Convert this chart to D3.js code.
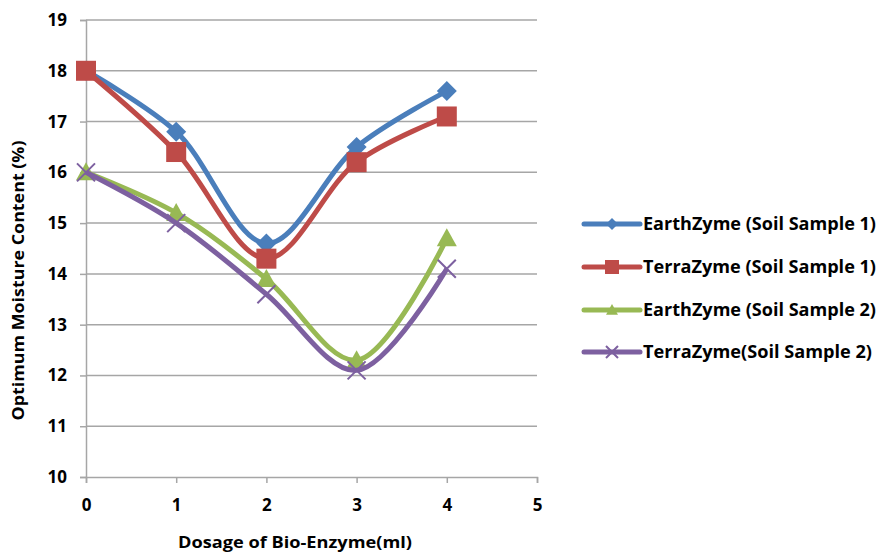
<!DOCTYPE html>
<html>
<head>
<style>
  body { margin: 0; background: #fff; }
  text { font-family: "Open Sans", "Liberation Sans", Arial, sans-serif; font-weight: bold; fill: #000; }
</style>
</head>
<body>
<svg></svg>
<script src="https://cdnjs.cloudflare.com/ajax/libs/d3/7.8.5/d3.min.js"></script>
<script>
// data
const dosage = [0, 1, 2, 3, 4];
const earthZyme1 = [18, 16.8, 14.6, 16.5, 17.6];
const terraZyme1 = [18, 16.4, 14.3, 16.2, 17.1];
const earthZyme2 = [16, 15.2, 13.9, 12.3, 14.7];
const terraZyme2 = [16, 15.0, 13.6, 12.1, 14.1];
const seriesNames = ["EarthZyme (Soil Sample 1)", "TerraZyme (Soil Sample 1)", "EarthZyme (Soil Sample 2)", "TerraZyme(Soil Sample 2)"];
const xTicks = [0, 1, 2, 3, 4, 5];
const yTicks = [10, 11, 12, 13, 14, 15, 16, 17, 18, 19];

const width = 879, height = 553;
const svg = d3.select("svg").attr("width", width).attr("height", height);

const x = d3.scaleLinear().domain([0, 5]).range([86, 537]);
const y = d3.scaleLinear().domain([10, 19]).range([477, 20]);

const grid = "#a6a6a6";

// horizontal gridlines
svg.append("g").selectAll("line").data(yTicks.slice(1)).join("line")
  .attr("x1", x(0)).attr("x2", x(5))
  .attr("y1", d => y(d)).attr("y2", d => y(d))
  .attr("stroke", grid).attr("stroke-width", 1.5);

// axes
const yAxis = svg.append("g").attr("transform", `translate(${x(0)},0)`)
  .call(d3.axisLeft(y).tickValues(yTicks).tickSize(6).tickPadding(13).tickFormat(d3.format("d")));
const xAxis = svg.append("g").attr("transform", `translate(0,${y(10)})`)
  .call(d3.axisBottom(x).tickValues(xTicks).tickSize(6).tickPadding(16).tickFormat(d3.format("d")));
[yAxis, xAxis].forEach(a => {
  a.select(".domain").attr("stroke", grid).attr("stroke-width", 1.5);
  a.selectAll(".tick line").attr("stroke", grid).attr("stroke-width", 1.5);
  a.selectAll(".tick text").style("font-size", "17px").style("font-family", null);
});

// axis titles
svg.append("text")
  .attr("transform", `translate(24,${(y(10) + y(19)) / 2 + 32}) rotate(-90)`)
  .attr("text-anchor", "middle").style("font-size", "16px")
  .text("Optimum Moisture Content (%)")
  .attr("textLength", 280).attr("lengthAdjust", "spacingAndGlyphs");
svg.append("text")
  .attr("x", 295).attr("y", 548)
  .attr("text-anchor", "middle").style("font-size", "16px")
  .text("Dosage of Bio-Enzyme(ml)")
  .attr("textLength", 234).attr("lengthAdjust", "spacingAndGlyphs");

const series = [
  { name: seriesNames[0], values: earthZyme1, color: "#4a7ebb", marker: "diamond" },
  { name: seriesNames[1], values: terraZyme1, color: "#be4b48", marker: "square" },
  { name: seriesNames[2], values: earthZyme2, color: "#98b954", marker: "triangle" },
  { name: seriesNames[3], values: terraZyme2, color: "#7d60a0", marker: "cross" }
];

const line = d3.line().x(d => x(d[0])).y(d => y(d[1])).curve(d3.curveCatmullRom.alpha(0.5));

function drawMarker(g, type, color, cx, cy, s) {
  if (type === "diamond") {
    g.append("path").attr("d", `M${cx},${cy - s}L${cx + s},${cy}L${cx},${cy + s}L${cx - s},${cy}Z`).attr("fill", color);
  } else if (type === "square") {
    g.append("rect").attr("x", cx - s).attr("y", cy - s).attr("width", 2 * s).attr("height", 2 * s).attr("fill", color);
  } else if (type === "triangle") {
    g.append("path").attr("d", `M${cx},${cy - s}L${cx + s},${cy + s * 0.8}L${cx - s},${cy + s * 0.8}Z`).attr("fill", color);
  } else {
    g.append("path").attr("d", `M${cx - s},${cy - s}L${cx + s},${cy + s}M${cx + s},${cy - s}L${cx - s},${cy + s}`)
      .attr("stroke", color).attr("stroke-width", 2);
  }
}

const sizes = { diamond: 10, square: 10, triangle: 10, cross: 9 };

series.forEach(s => {
  const pts = dosage.map((d, i) => [d, s.values[i]]);
  svg.append("path").datum(pts).attr("d", line)
    .attr("fill", "none").attr("stroke", s.color).attr("stroke-width", 5)
    .attr("stroke-linejoin", "round");
  const g = svg.append("g");
  pts.forEach(p => drawMarker(g, s.marker, s.color, x(p[0]), y(p[1]), sizes[s.marker]));
});

// legend
const legendY = [224, 267, 310, 352];
series.forEach((s, i) => {
  const g = svg.append("g");
  g.append("line").attr("x1", 584).attr("x2", 640).attr("y1", legendY[i]).attr("y2", legendY[i])
    .attr("stroke", s.color).attr("stroke-width", 5).attr("stroke-linecap", "round");
  drawMarker(g, s.marker, s.color, 612, legendY[i], s.marker === "square" ? 7 : 6);
  const target = i === 3 ? 229 : 233;
  g.append("text").attr("x", 643).attr("y", legendY[i] + 6).style("font-size", "17px").text(s.name)
    .attr("textLength", target).attr("lengthAdjust", "spacingAndGlyphs");
});
</script>
</body>
</html>
